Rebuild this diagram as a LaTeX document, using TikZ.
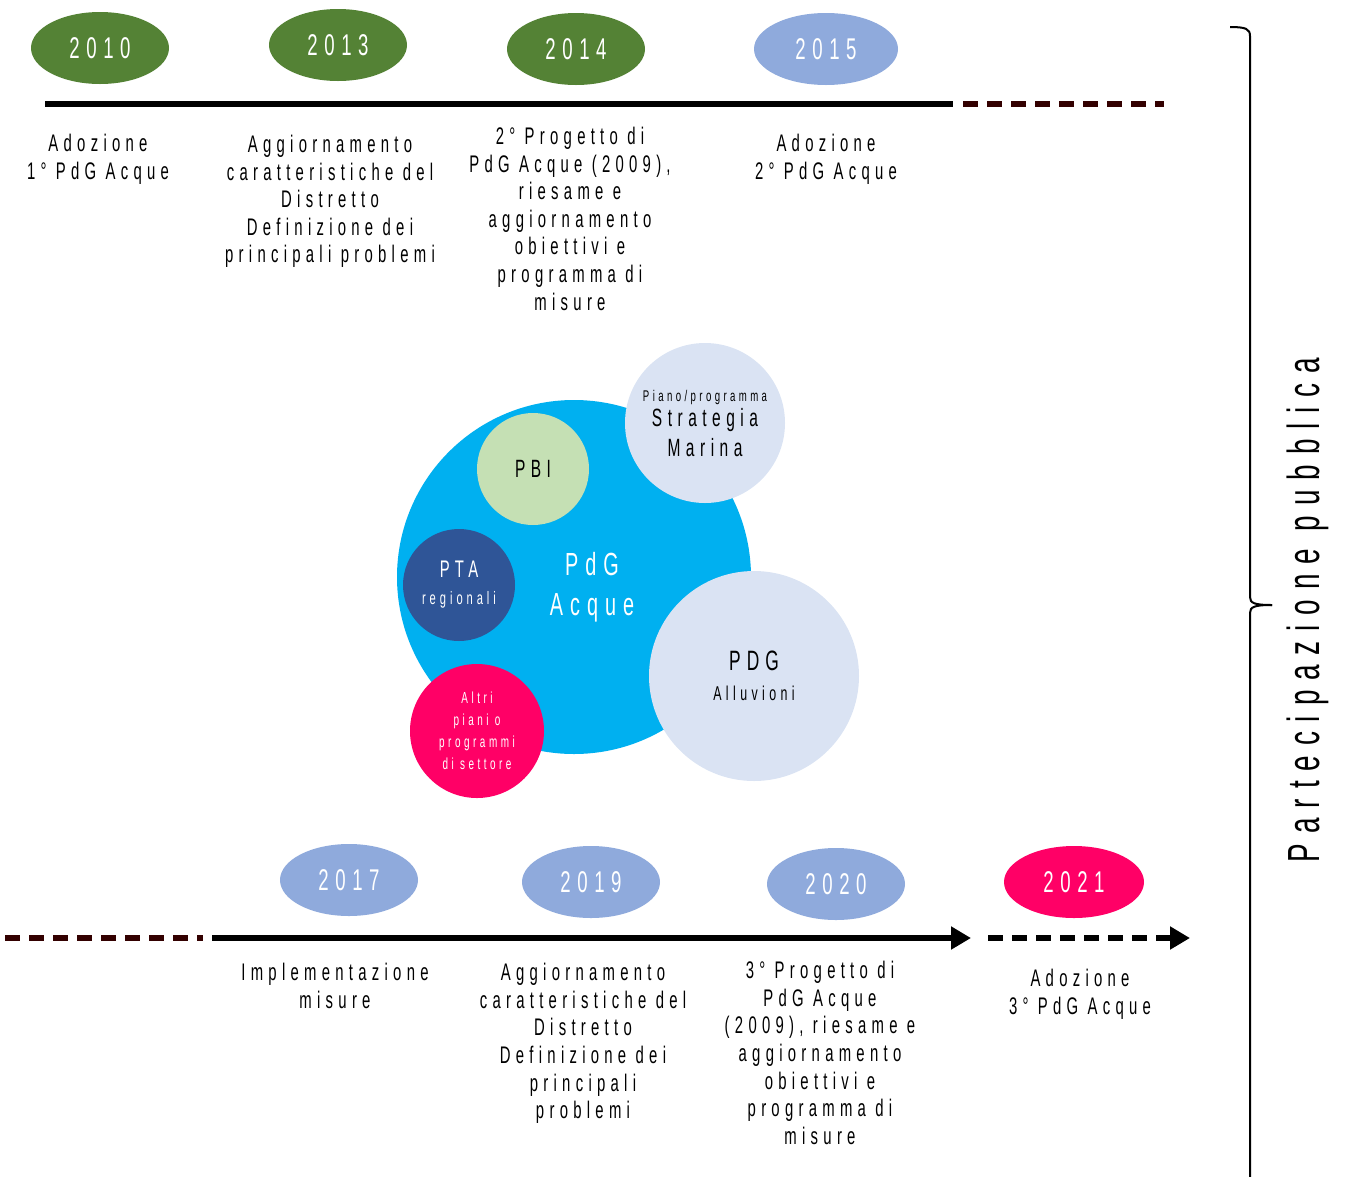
\documentclass[tikz,border=0pt]{standalone}
\usepackage{fontspec}
\setmainfont{Liberation Sans}[FakeStretch=0.62,LetterSpace=22]
\usetikzlibrary{arrows.meta,shapes.geometric}
\definecolor{grass}{HTML}{548235}
\definecolor{sky}{HTML}{8FAADC}
\definecolor{fuchsia}{HTML}{FF0066}
\definecolor{cyanblue}{HTML}{00B0F0}
\definecolor{navy}{HTML}{2F5597}
\definecolor{palegreen}{HTML}{C5E0B4}
\definecolor{paleblue}{HTML}{DAE3F3}
\definecolor{maroon}{HTML}{330000}
\tikzset{
  yearbox/.style={ellipse,draw=none,fill=#1,minimum width=138pt,minimum height=72pt,
    inner sep=0pt,text=white,font=\fontsize{30}{30}\selectfont},
  steptext/.style={anchor=north,align=center,inner sep=0pt,
    font=\fontsize{24}{27.6}\selectfont},
  bubble/.style={circle,draw=none,fill=#1,inner sep=0pt,align=center},
  timeline/.style={line width=6pt},
  future/.style={line width=6pt,dash pattern=on 15pt off 9pt}
}
\begin{document}
\begin{tikzpicture}[x=1pt,y=-1pt]
  \useasboundingbox (0,0) rectangle (1347,1176);
  %% top timeline
  \node[yearbox=grass] (y2010) at (100,48) {2010};
  \node[yearbox=grass] (y2013) at (338,45) {2013};
  \node[yearbox=grass] (y2014) at (576,49) {2014};
  \node[yearbox=sky,minimum width=144pt] (y2015) at (826,49) {2015};
  \coordinate (topstart) at (45,104);
  \coordinate (topend) at (953,104);
  \coordinate (topdash) at (963,104);
  \coordinate (topfar) at (1164,104);
  \draw[timeline] (topstart) -- (topend);
  \draw[future,maroon] (topdash) -- (topfar);
  \node[steptext] (s2010) at (98,134) {Adozione\\1° PdG Acque};
  \node[steptext] (s2013) at (330,135) {Aggiornamento\\caratteristiche del\\Distretto\\Definizione dei\\principali problemi};
  \node[steptext] (s2014) at (570,127) {2° Progetto di\\PdG Acque (2009),\\riesame e\\aggiornamento\\obiettivi e\\programma di\\misure};
  \node[steptext] (s2015) at (826,134) {Adozione\\2° PdG Acque};
  %% bubbles
  \node[bubble=cyanblue,minimum size=354pt] (acque) at (574,577) {};
  \node[text=white,align=center,font=\fontsize{32}{40}\selectfont] (acquetxt) at (592,587) {PdG\\Acque};
  \node[bubble=palegreen,minimum size=112pt,font=\fontsize{25}{25}\selectfont] (pbi) at (533,469) {PBI};
  \node[bubble=paleblue,minimum size=160pt,font=\fontsize{25}{30}\selectfont] (marina) at (705,423)
    {{\fontsize{15.5}{16}\selectfont Piano/programma}\\[-5pt]Strategia\\Marina};
  \node[bubble=navy,minimum size=112pt,text=white,font=\fontsize{18}{27}\selectfont] (pta) at (459,585)
    {{\fontsize{24}{27}\selectfont PTA}\\regionali};
  \node[bubble=fuchsia,minimum size=134pt,text=white,font=\fontsize{16}{22}\selectfont] (altri) at (477,731)
    {Altri\\piani o\\programmi\\di settore};
  \node[bubble=paleblue,minimum size=210pt,font=\fontsize{20}{30}\selectfont] (alluvioni) at (754,676)
    {{\fontsize{28}{30}\selectfont PDG}\\Alluvioni};
  %% bottom timeline
  \node[yearbox=sky] (y2017) at (349,880) {2017};
  \node[yearbox=sky] (y2019) at (591,882) {2019};
  \node[yearbox=sky] (y2020) at (836,884) {2020};
  \node[yearbox=fuchsia,minimum width=140pt] (y2021) at (1074,882) {2021};
  \coordinate (botfar) at (5,938);
  \coordinate (botdash) at (203,938);
  \coordinate (botstart) at (212,938);
  \coordinate (botend) at (971,938);
  \coordinate (nextstart) at (988,938);
  \coordinate (nextend) at (1190,938);
  \draw[future,maroon] (botfar) -- (botdash);
  \draw[timeline,-{Triangle[length=20pt,width=22pt]}] (botstart) -- (botend);
  \draw[future,-{Triangle[length=20pt,width=22pt]}] (nextstart) -- (nextend);
  \node[steptext] (s2017) at (335,963) {Implementazione\\misure};
  \node[steptext] (s2019) at (583,963) {Aggiornamento\\caratteristiche del\\Distretto\\Definizione dei\\principali\\problemi};
  \node[steptext] (s2020) at (820,961) {3° Progetto di\\PdG Acque\\(2009), riesame e\\aggiornamento\\obiettivi e\\programma di\\misure};
  \node[steptext] (s2021) at (1080,969) {Adozione\\3° PdG Acque};
  %% brace
  \coordinate (bracetop) at (1230,27);
  \coordinate (bracetip) at (1272,605);
  \coordinate (bracebot) at (1250,1180);
  \draw[line width=2pt] (bracetop) .. controls (1246,27) and (1250,29) .. (1250,36)
    -- (1250,597) .. controls (1250,603) and (1254,605) .. (bracetip);
  \draw[line width=2pt] (bracebot) -- (1250,613) .. controls (1250,607) and (1254,605) .. (bracetip);
  \node[rotate=90,font=\fontsize{45}{45}\selectfont] (partec) at (1308,610) {Partecipazione pubblica};
\end{tikzpicture}
\end{document}
